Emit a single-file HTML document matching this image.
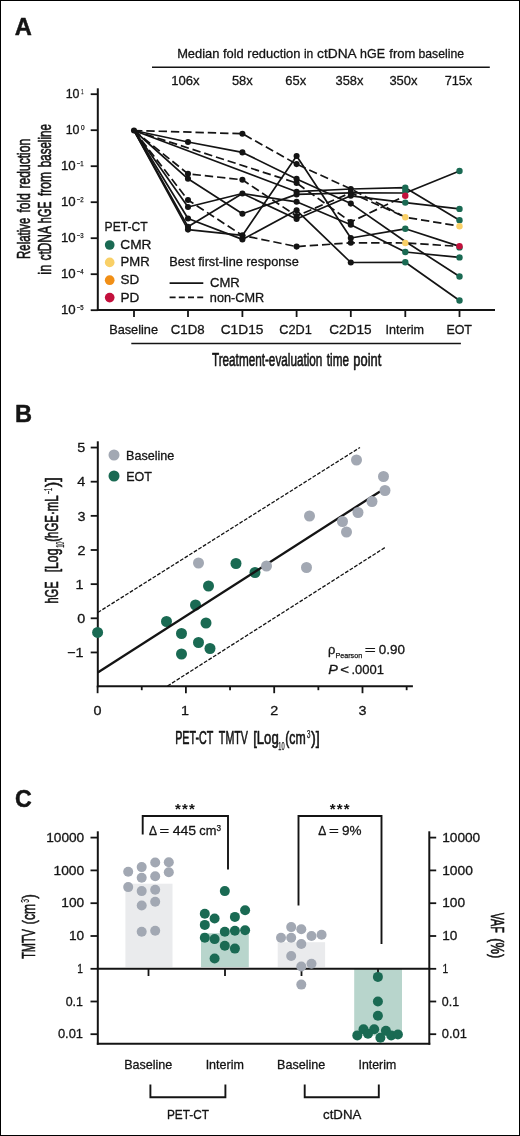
<!DOCTYPE html>
<html lang="en"><head><meta charset="utf-8"><title>Figure</title>
<style>
html,body{margin:0;padding:0;background:#fff}
body{width:520px;height:1136px;overflow:hidden}
svg{display:block;font-family:'Liberation Sans', Arial, Helvetica, sans-serif}
svg text{fill:#141414;stroke-linejoin:round}
</style></head>
<body>
<svg width="520" height="1136" viewBox="0 0 520 1136">
<rect x="0" y="0" width="520" height="1136" fill="#fff"/>
<rect x="0.5" y="0.5" width="519" height="1135" fill="none" stroke="#000" stroke-width="1"/>
<g id="panelA">
<text x="14.81" y="34.6" font-size="24.8" textLength="17.12" lengthAdjust="spacingAndGlyphs" font-weight="bold" stroke="#141414" stroke-width="0.5">A</text>
<text transform="translate(0 58.4)" font-size="13.1" stroke="#141414" stroke-width="0.3"><tspan x="177.14" y="0" font-size="13.1" textLength="123.3" lengthAdjust="spacingAndGlyphs">Median fold reduction</tspan> <tspan x="303.89" y="0" font-size="13.1" textLength="9.39" lengthAdjust="spacingAndGlyphs">in</tspan> <tspan x="317.03" y="0" font-size="13.1" textLength="39.0" lengthAdjust="spacingAndGlyphs">ctDNA</tspan> <tspan x="360.04" y="0" font-size="13.1" textLength="24.9" lengthAdjust="spacingAndGlyphs">hGE</tspan> <tspan x="389.32" y="0" font-size="13.1" textLength="26.04" lengthAdjust="spacingAndGlyphs">from</tspan> <tspan x="418.51" y="0" font-size="13.1" textLength="45.53" lengthAdjust="spacingAndGlyphs">baseline</tspan></text>
<line x1="152" y1="67.2" x2="489.8" y2="67.2" stroke="#141414" stroke-width="1.6"/>
<text x="171.2" y="84.6" font-size="13.1" textLength="28.44" lengthAdjust="spacingAndGlyphs" stroke="#141414" stroke-width="0.3">106x</text>
<text x="231.88" y="84.6" font-size="13.1" textLength="20.86" lengthAdjust="spacingAndGlyphs" stroke="#141414" stroke-width="0.3">58x</text>
<text x="285.24" y="84.6" font-size="13.1" textLength="20.9" lengthAdjust="spacingAndGlyphs" stroke="#141414" stroke-width="0.3">65x</text>
<text x="335.51" y="84.6" font-size="13.1" textLength="27.93" lengthAdjust="spacingAndGlyphs" stroke="#141414" stroke-width="0.3">358x</text>
<text x="389.41" y="84.6" font-size="13.1" textLength="28.13" lengthAdjust="spacingAndGlyphs" stroke="#141414" stroke-width="0.3">350x</text>
<text x="444.65" y="84.6" font-size="13.1" textLength="27.59" lengthAdjust="spacingAndGlyphs" stroke="#141414" stroke-width="0.3">715x</text>
<line x1="97.8" y1="88.3" x2="97.8" y2="311" stroke="#141414" stroke-width="2.0"/>
<line x1="96.85" y1="310.1" x2="495" y2="310.1" stroke="#141414" stroke-width="2.0"/>
<line x1="90.7" y1="94.2" x2="97.8" y2="94.2" stroke="#141414" stroke-width="1.8"/>
<text transform="translate(0 97.9)" font-size="12.6" stroke="#141414" stroke-width="0.3"><tspan x="65.65" y="0" font-size="12.6" textLength="13.83" lengthAdjust="spacingAndGlyphs">10</tspan><tspan x="81.3" y="-3.9" font-size="7.4" stroke-width="0.25" textLength="2.19" lengthAdjust="spacingAndGlyphs">1</tspan></text>
<line x1="90.7" y1="130.2" x2="97.8" y2="130.2" stroke="#141414" stroke-width="1.8"/>
<text transform="translate(0 133.89999999999998)" font-size="12.6" stroke="#141414" stroke-width="0.3"><tspan x="65.65" y="0" font-size="12.6" textLength="13.83" lengthAdjust="spacingAndGlyphs">10</tspan><tspan x="80.95" y="-3.9" font-size="7.4" stroke-width="0.25" textLength="3.61" lengthAdjust="spacingAndGlyphs">0</tspan></text>
<line x1="90.7" y1="166.2" x2="97.8" y2="166.2" stroke="#141414" stroke-width="1.8"/>
<text transform="translate(0 169.89999999999998)" font-size="12.6" stroke="#141414" stroke-width="0.3"><tspan x="60.99" y="0" font-size="12.6" textLength="14.73" lengthAdjust="spacingAndGlyphs">10</tspan><tspan x="76.8" y="-3.9" font-size="7.4" stroke-width="0.25" textLength="6.89" lengthAdjust="spacingAndGlyphs">−1</tspan></text>
<line x1="90.7" y1="202.2" x2="97.8" y2="202.2" stroke="#141414" stroke-width="1.8"/>
<text transform="translate(0 205.89999999999998)" font-size="12.6" stroke="#141414" stroke-width="0.3"><tspan x="60.99" y="0" font-size="12.6" textLength="14.73" lengthAdjust="spacingAndGlyphs">10</tspan><tspan x="76.8" y="-3.9" font-size="7.4" stroke-width="0.25" textLength="6.9" lengthAdjust="spacingAndGlyphs">−2</tspan></text>
<line x1="90.7" y1="238.2" x2="97.8" y2="238.2" stroke="#141414" stroke-width="1.8"/>
<text transform="translate(0 241.89999999999998)" font-size="12.6" stroke="#141414" stroke-width="0.3"><tspan x="60.99" y="0" font-size="12.6" textLength="14.73" lengthAdjust="spacingAndGlyphs">10</tspan><tspan x="76.8" y="-3.9" font-size="7.4" stroke-width="0.25" textLength="6.86" lengthAdjust="spacingAndGlyphs">−3</tspan></text>
<line x1="90.7" y1="274.2" x2="97.8" y2="274.2" stroke="#141414" stroke-width="1.8"/>
<text transform="translate(0 277.9)" font-size="12.6" stroke="#141414" stroke-width="0.3"><tspan x="60.99" y="0" font-size="12.6" textLength="14.73" lengthAdjust="spacingAndGlyphs">10</tspan><tspan x="76.81" y="-3.9" font-size="7.4" stroke-width="0.25" textLength="6.77" lengthAdjust="spacingAndGlyphs">−4</tspan></text>
<line x1="90.7" y1="310.2" x2="97.8" y2="310.2" stroke="#141414" stroke-width="1.8"/>
<text transform="translate(0 313.9)" font-size="12.6" stroke="#141414" stroke-width="0.3"><tspan x="60.99" y="0" font-size="12.6" textLength="14.73" lengthAdjust="spacingAndGlyphs">10</tspan><tspan x="76.8" y="-3.9" font-size="7.4" stroke-width="0.25" textLength="6.85" lengthAdjust="spacingAndGlyphs">−5</tspan></text>
<line x1="134" y1="310" x2="134" y2="317" stroke="#141414" stroke-width="1.8"/>
<line x1="188" y1="310" x2="188" y2="317" stroke="#141414" stroke-width="1.8"/>
<line x1="242.4" y1="310" x2="242.4" y2="317" stroke="#141414" stroke-width="1.8"/>
<line x1="296.6" y1="310" x2="296.6" y2="317" stroke="#141414" stroke-width="1.8"/>
<line x1="350.8" y1="310" x2="350.8" y2="317" stroke="#141414" stroke-width="1.8"/>
<line x1="405.3" y1="310" x2="405.3" y2="317" stroke="#141414" stroke-width="1.8"/>
<line x1="459.5" y1="310" x2="459.5" y2="317" stroke="#141414" stroke-width="1.8"/>
<text x="109.15" y="334.0" font-size="13.1" textLength="48.91" lengthAdjust="spacingAndGlyphs" stroke="#141414" stroke-width="0.3">Baseline</text>
<text x="170.73" y="334.0" font-size="13.1" textLength="33.85" lengthAdjust="spacingAndGlyphs" stroke="#141414" stroke-width="0.3">C1D8</text>
<text x="220.7" y="334.0" font-size="13.1" textLength="42.77" lengthAdjust="spacingAndGlyphs" stroke="#141414" stroke-width="0.3">C1D15</text>
<text x="279.35" y="334.0" font-size="13.1" textLength="32.57" lengthAdjust="spacingAndGlyphs" stroke="#141414" stroke-width="0.3">C2D1</text>
<text x="329.31" y="334.0" font-size="13.1" textLength="42.26" lengthAdjust="spacingAndGlyphs" stroke="#141414" stroke-width="0.3">C2D15</text>
<text x="385.54" y="334.0" font-size="13.1" textLength="38.49" lengthAdjust="spacingAndGlyphs" stroke="#141414" stroke-width="0.3">Interim</text>
<text x="446.38" y="334.0" font-size="13.1" textLength="25.61" lengthAdjust="spacingAndGlyphs" stroke="#141414" stroke-width="0.3">EOT</text>
<line x1="131.3" y1="343.5" x2="460.9" y2="343.5" stroke="#141414" stroke-width="1.6"/>
<text transform="translate(0 365.6)" font-size="17.6" stroke="#141414" stroke-width="0.6"><tspan x="211.94" y="0" font-size="17.6" textLength="110.42" lengthAdjust="spacingAndGlyphs">Treatment-evaluation</tspan> <tspan x="326.82" y="0" font-size="17.6" textLength="22.1" lengthAdjust="spacingAndGlyphs">time</tspan> <tspan x="353.37" y="0" font-size="17.6" textLength="27.92" lengthAdjust="spacingAndGlyphs">point</tspan></text>
<text transform="translate(29.9 258.2) rotate(-90)" font-size="17.6" stroke="#141414" stroke-width="0.6"><tspan x="-0.74" y="0" font-size="17.6" textLength="41.35" lengthAdjust="spacingAndGlyphs">Relative</tspan> <tspan x="45.73" y="0" font-size="17.6" textLength="19.34" lengthAdjust="spacingAndGlyphs">fold</tspan> <tspan x="69.7" y="0" font-size="17.6" textLength="49.79" lengthAdjust="spacingAndGlyphs">reduction</tspan></text>
<text transform="translate(51.1 274) rotate(-90)" font-size="17.6" stroke="#141414" stroke-width="0.6"><tspan x="-0.67" y="0" font-size="17.6" textLength="10.11" lengthAdjust="spacingAndGlyphs">in</tspan> <tspan x="13.4" y="0" font-size="17.6" textLength="33.92" lengthAdjust="spacingAndGlyphs">ctDNA</tspan> <tspan x="50.84" y="0" font-size="17.6" textLength="21.82" lengthAdjust="spacingAndGlyphs">hGE</tspan> <tspan x="78.03" y="0" font-size="17.6" textLength="24.06" lengthAdjust="spacingAndGlyphs">from</tspan> <tspan x="106.75" y="0" font-size="17.6" textLength="43.16" lengthAdjust="spacingAndGlyphs">baseline</tspan></text>
<polyline points="134,130.5 188,142 242.4,152.4 296.6,178.9 350.8,203.6 405.3,241.5 459.5,276.5" fill="none" stroke="#141414" stroke-width="1.7" stroke-linejoin="round"/>
<polyline points="134,130.5 296.6,191.7 350.8,189 405.3,187.7 459.5,220.2" fill="none" stroke="#141414" stroke-width="1.7" stroke-linejoin="round"/>
<polyline points="134,130.5 188,178.8 242.4,213.7 296.6,194.4 350.8,192.8 405.3,193 459.5,171" fill="none" stroke="#141414" stroke-width="1.7" stroke-linejoin="round"/>
<polyline points="134,130.5 188,207 242.4,193.5 296.6,201.8 350.8,224.7 405.3,252 459.5,257.4" fill="none" stroke="#141414" stroke-width="1.7" stroke-linejoin="round"/>
<polyline points="134,130.5 188,226.7 242.4,193.5 296.6,219 350.8,195.8 405.3,202.6 459.5,208.9" fill="none" stroke="#141414" stroke-width="1.7" stroke-linejoin="round"/>
<polyline points="134,130.5 188,218.5 242.4,239.4 296.6,210.3 350.8,262.5 405.3,262.3 459.5,300.5" fill="none" stroke="#141414" stroke-width="1.7" stroke-linejoin="round"/>
<polyline points="134,130.5 188,229.6 242.4,235.4 296.6,156 350.8,238 405.3,228.8 459.5,246.4" fill="none" stroke="#141414" stroke-width="1.7" stroke-linejoin="round"/>
<polyline points="134,130.5 242.4,133.7 296.6,164.1 350.8,189 405.3,217.2 459.5,226.2" fill="none" stroke="#141414" stroke-width="1.7" stroke-dasharray="8.4 3.9" stroke-linejoin="round"/>
<polyline points="134,130.5 296.6,183 350.8,222 405.3,195.7" fill="none" stroke="#141414" stroke-width="1.7" stroke-dasharray="8.4 3.9" stroke-linejoin="round"/>
<polyline points="134,130.5 188,173.8 242.4,179.8 296.6,216 350.8,192.8 405.3,217.2" fill="none" stroke="#141414" stroke-width="1.7" stroke-dasharray="8.4 3.9" stroke-linejoin="round"/>
<polyline points="134,130.5 188,200 242.4,235.4 296.6,246.6 350.8,242.8 405.3,243 459.5,246.4" fill="none" stroke="#141414" stroke-width="1.7" stroke-dasharray="8.4 3.9" stroke-linejoin="round"/>
<circle cx="134" cy="130.5" r="3.05" fill="#141414"/>
<circle cx="188" cy="142" r="3.05" fill="#141414"/>
<circle cx="242.4" cy="152.4" r="3.05" fill="#141414"/>
<circle cx="296.6" cy="178.9" r="3.05" fill="#141414"/>
<circle cx="350.8" cy="203.6" r="3.05" fill="#141414"/>
<circle cx="296.6" cy="191.7" r="3.05" fill="#141414"/>
<circle cx="350.8" cy="189" r="3.05" fill="#141414"/>
<circle cx="188" cy="178.8" r="3.05" fill="#141414"/>
<circle cx="242.4" cy="213.7" r="3.05" fill="#141414"/>
<circle cx="296.6" cy="194.4" r="3.05" fill="#141414"/>
<circle cx="350.8" cy="192.8" r="3.05" fill="#141414"/>
<circle cx="188" cy="207" r="3.05" fill="#141414"/>
<circle cx="242.4" cy="193.5" r="3.05" fill="#141414"/>
<circle cx="296.6" cy="201.8" r="3.05" fill="#141414"/>
<circle cx="350.8" cy="224.7" r="3.05" fill="#141414"/>
<circle cx="188" cy="226.7" r="3.05" fill="#141414"/>
<circle cx="296.6" cy="219" r="3.05" fill="#141414"/>
<circle cx="350.8" cy="195.8" r="3.05" fill="#141414"/>
<circle cx="188" cy="218.5" r="3.05" fill="#141414"/>
<circle cx="242.4" cy="239.4" r="3.05" fill="#141414"/>
<circle cx="296.6" cy="210.3" r="3.05" fill="#141414"/>
<circle cx="350.8" cy="262.5" r="3.05" fill="#141414"/>
<circle cx="188" cy="229.6" r="3.05" fill="#141414"/>
<circle cx="242.4" cy="235.4" r="3.05" fill="#141414"/>
<circle cx="296.6" cy="156" r="3.05" fill="#141414"/>
<circle cx="350.8" cy="238" r="3.05" fill="#141414"/>
<circle cx="242.4" cy="133.7" r="3.05" fill="#141414"/>
<circle cx="296.6" cy="164.1" r="3.05" fill="#141414"/>
<circle cx="296.6" cy="183" r="3.05" fill="#141414"/>
<circle cx="350.8" cy="222" r="3.05" fill="#141414"/>
<circle cx="188" cy="173.8" r="3.05" fill="#141414"/>
<circle cx="242.4" cy="179.8" r="3.05" fill="#141414"/>
<circle cx="296.6" cy="216" r="3.05" fill="#141414"/>
<circle cx="188" cy="200" r="3.05" fill="#141414"/>
<circle cx="296.6" cy="246.6" r="3.05" fill="#141414"/>
<circle cx="350.8" cy="242.8" r="3.05" fill="#141414"/>
<circle cx="405.3" cy="187.7" r="3.2" fill="#1a6a53"/>
<circle cx="405.3" cy="191" r="3.2" fill="#1a6a53"/>
<circle cx="405.3" cy="202.6" r="3.2" fill="#1a6a53"/>
<circle cx="405.3" cy="228.8" r="3.2" fill="#1a6a53"/>
<circle cx="405.3" cy="252" r="3.2" fill="#1a6a53"/>
<circle cx="405.3" cy="262.3" r="3.2" fill="#1a6a53"/>
<circle cx="405.3" cy="217.2" r="3.2" fill="#f9d067"/>
<circle cx="405.3" cy="243" r="3.2" fill="#f9d067"/>
<circle cx="405.3" cy="195.7" r="3.2" fill="#c3103c"/>
<circle cx="459.5" cy="171" r="3.2" fill="#1a6a53"/>
<circle cx="459.5" cy="208.9" r="3.2" fill="#1a6a53"/>
<circle cx="459.5" cy="220.2" r="3.2" fill="#1a6a53"/>
<circle cx="459.5" cy="247.4" r="3.2" fill="#1a6a53"/>
<circle cx="459.5" cy="257.4" r="3.2" fill="#1a6a53"/>
<circle cx="459.5" cy="276.5" r="3.2" fill="#1a6a53"/>
<circle cx="459.5" cy="300.5" r="3.2" fill="#1a6a53"/>
<circle cx="459.5" cy="226.2" r="3.2" fill="#f9d067"/>
<circle cx="459.5" cy="246.2" r="3.2" fill="#c3103c"/>
<text x="104.62" y="231.4" font-size="13.1" textLength="43.05" lengthAdjust="spacingAndGlyphs" stroke="#141414" stroke-width="0.3">PET-CT</text>
<circle cx="109.7" cy="245" r="4.85" fill="#1a6a53"/>
<text x="120.3" y="249.3" font-size="13.1" textLength="31.23" lengthAdjust="spacingAndGlyphs" stroke="#141414" stroke-width="0.3">CMR</text>
<circle cx="109.7" cy="262.4" r="4.85" fill="#f9d067"/>
<text x="120.52" y="266.4" font-size="13.1" textLength="29.19" lengthAdjust="spacingAndGlyphs" stroke="#141414" stroke-width="0.3">PMR</text>
<circle cx="109.7" cy="280.2" r="4.85" fill="#f18f16"/>
<text x="120.59" y="284.3" font-size="13.1" textLength="18.76" lengthAdjust="spacingAndGlyphs" stroke="#141414" stroke-width="0.3">SD</text>
<circle cx="109.7" cy="297.6" r="4.85" fill="#c3103c"/>
<text x="120.49" y="301.7" font-size="13.1" textLength="18.86" lengthAdjust="spacingAndGlyphs" stroke="#141414" stroke-width="0.3">PD</text>
<text x="169.26" y="266.1" font-size="13.1" textLength="129.51" lengthAdjust="spacingAndGlyphs" stroke="#141414" stroke-width="0.3">Best first-line response</text>
<line x1="169.6" y1="283.2" x2="203.3" y2="283.2" stroke="#141414" stroke-width="1.8"/>
<text x="209.93" y="287.3" font-size="13.1" textLength="29.87" lengthAdjust="spacingAndGlyphs" stroke="#141414" stroke-width="0.3">CMR</text>
<line x1="169.6" y1="297.3" x2="203.5" y2="297.3" stroke="#141414" stroke-width="1.8" stroke-dasharray="6 3.2"/>
<text x="209.86" y="301.6" font-size="13.1" textLength="54.33" lengthAdjust="spacingAndGlyphs" stroke="#141414" stroke-width="0.3">non-CMR</text>
</g>
<g id="panelB">
<text x="14.92" y="421.5" font-size="24.8" textLength="17.05" lengthAdjust="spacingAndGlyphs" font-weight="bold" stroke="#141414" stroke-width="0.5">B</text>
<line x1="97.8" y1="441.3" x2="97.8" y2="687.2" stroke="#141414" stroke-width="2.0"/>
<line x1="96.85" y1="686.3" x2="412.9" y2="686.3" stroke="#141414" stroke-width="2.0"/>
<line x1="90.7" y1="447.54999999999995" x2="97.8" y2="447.54999999999995" stroke="#141414" stroke-width="1.8"/>
<text x="77.39" y="452.24999999999994" font-size="13.1" textLength="8.01" lengthAdjust="spacingAndGlyphs" stroke="#141414" stroke-width="0.3">5</text>
<line x1="90.7" y1="481.69999999999993" x2="97.8" y2="481.69999999999993" stroke="#141414" stroke-width="1.8"/>
<text x="77.21" y="486.3999999999999" font-size="13.1" textLength="8.01" lengthAdjust="spacingAndGlyphs" stroke="#141414" stroke-width="0.3">4</text>
<line x1="90.7" y1="515.8499999999999" x2="97.8" y2="515.8499999999999" stroke="#141414" stroke-width="1.8"/>
<text x="77.42" y="520.55" font-size="13.1" textLength="8.01" lengthAdjust="spacingAndGlyphs" stroke="#141414" stroke-width="0.3">3</text>
<line x1="90.7" y1="550.0" x2="97.8" y2="550.0" stroke="#141414" stroke-width="1.8"/>
<text x="77.51" y="554.7" font-size="13.1" textLength="8.01" lengthAdjust="spacingAndGlyphs" stroke="#141414" stroke-width="0.3">2</text>
<line x1="90.7" y1="584.15" x2="97.8" y2="584.15" stroke="#141414" stroke-width="1.8"/>
<text x="75.59" y="588.85" font-size="13.1" textLength="8.01" lengthAdjust="spacingAndGlyphs" stroke="#141414" stroke-width="0.3">1</text>
<line x1="90.7" y1="618.3" x2="97.8" y2="618.3" stroke="#141414" stroke-width="1.8"/>
<text x="77.35" y="623.0" font-size="13.1" textLength="8.01" lengthAdjust="spacingAndGlyphs" stroke="#141414" stroke-width="0.3">0</text>
<line x1="90.7" y1="652.4499999999999" x2="97.8" y2="652.4499999999999" stroke="#141414" stroke-width="1.8"/>
<text x="67.17" y="657.15" font-size="13.1" textLength="16.43" lengthAdjust="spacingAndGlyphs" stroke="#141414" stroke-width="0.3">−1</text>
<line x1="97.6" y1="686.3" x2="97.6" y2="693.2" stroke="#141414" stroke-width="1.8"/>
<text x="93.59" y="715" font-size="13.1" textLength="8.01" lengthAdjust="spacingAndGlyphs" stroke="#141414" stroke-width="0.3">0</text>
<line x1="185.89999999999998" y1="686.3" x2="185.89999999999998" y2="693.2" stroke="#141414" stroke-width="1.8"/>
<text x="181.1" y="715" font-size="13.1" textLength="8.01" lengthAdjust="spacingAndGlyphs" stroke="#141414" stroke-width="0.3">1</text>
<line x1="274.2" y1="686.3" x2="274.2" y2="693.2" stroke="#141414" stroke-width="1.8"/>
<text x="270.19" y="715" font-size="13.1" textLength="8.01" lengthAdjust="spacingAndGlyphs" stroke="#141414" stroke-width="0.3">2</text>
<line x1="362.5" y1="686.3" x2="362.5" y2="693.2" stroke="#141414" stroke-width="1.8"/>
<text x="358.54" y="715" font-size="13.1" textLength="8.01" lengthAdjust="spacingAndGlyphs" stroke="#141414" stroke-width="0.3">3</text>
<line x1="141.75" y1="686.3" x2="141.75" y2="690.2" stroke="#141414" stroke-width="1.8"/>
<line x1="230.04999999999998" y1="686.3" x2="230.04999999999998" y2="690.2" stroke="#141414" stroke-width="1.8"/>
<line x1="318.35" y1="686.3" x2="318.35" y2="690.2" stroke="#141414" stroke-width="1.8"/>
<line x1="406.65" y1="686.3" x2="406.65" y2="690.2" stroke="#141414" stroke-width="1.8"/>
<circle cx="236" cy="563.5" r="5.5" fill="#1a6a53"/>
<circle cx="255" cy="572.5" r="5.5" fill="#1a6a53"/>
<circle cx="208.5" cy="586" r="5.5" fill="#1a6a53"/>
<circle cx="195.5" cy="605" r="5.5" fill="#1a6a53"/>
<circle cx="166.5" cy="621.5" r="5.5" fill="#1a6a53"/>
<circle cx="206" cy="623" r="5.5" fill="#1a6a53"/>
<circle cx="181.5" cy="633.5" r="5.5" fill="#1a6a53"/>
<circle cx="198.5" cy="642.5" r="5.5" fill="#1a6a53"/>
<circle cx="210" cy="648.5" r="5.5" fill="#1a6a53"/>
<circle cx="181.5" cy="654" r="5.5" fill="#1a6a53"/>
<circle cx="97.6" cy="632.4" r="5.5" fill="#1a6a53"/>
<line x1="97.8" y1="672.5" x2="380" y2="491.5" stroke="#141414" stroke-width="2.3"/>
<line x1="97.8" y1="612.5" x2="360" y2="447.5" stroke="#141414" stroke-width="1.3" stroke-dasharray="3.8 1.6"/>
<line x1="167.5" y1="686" x2="385" y2="547.5" stroke="#141414" stroke-width="1.3" stroke-dasharray="3.8 1.6"/>
<circle cx="356.5" cy="460" r="5.5" fill="#a2a8b3"/>
<circle cx="383.5" cy="476.5" r="5.5" fill="#a2a8b3"/>
<circle cx="385" cy="490.5" r="5.5" fill="#a2a8b3"/>
<circle cx="372" cy="501.5" r="5.5" fill="#a2a8b3"/>
<circle cx="358" cy="512.5" r="5.5" fill="#a2a8b3"/>
<circle cx="309.5" cy="516" r="5.5" fill="#a2a8b3"/>
<circle cx="342.5" cy="521.5" r="5.5" fill="#a2a8b3"/>
<circle cx="346.5" cy="532" r="5.5" fill="#a2a8b3"/>
<circle cx="266.5" cy="566" r="5.5" fill="#a2a8b3"/>
<circle cx="306.5" cy="567.5" r="5.5" fill="#a2a8b3"/>
<circle cx="198.5" cy="563" r="5.5" fill="#a2a8b3"/>
<circle cx="114" cy="455" r="5.5" fill="#a2a8b3"/>
<text x="126.07" y="459.6" font-size="13.1" textLength="48.29" lengthAdjust="spacingAndGlyphs" stroke="#141414" stroke-width="0.3">Baseline</text>
<circle cx="114" cy="476" r="5.5" fill="#1a6a53"/>
<text x="126.17" y="480.6" font-size="13.1" textLength="25.71" lengthAdjust="spacingAndGlyphs" stroke="#141414" stroke-width="0.3">EOT</text>
<text transform="translate(0 654.2)" font-size="13.1" stroke="#141414" stroke-width="0.3"><tspan x="328.07" y="0" font-size="13.1" textLength="7.35" lengthAdjust="spacingAndGlyphs">ρ</tspan><tspan x="335.41" y="3.9" font-size="7.2" stroke-width="0.25" textLength="26.76" lengthAdjust="spacingAndGlyphs">Pearson</tspan> <tspan x="364.88" y="0" font-size="13.1" textLength="11.06" lengthAdjust="spacingAndGlyphs">=</tspan> <tspan x="378.78" y="0" font-size="13.1" textLength="26.15" lengthAdjust="spacingAndGlyphs">0.90</tspan></text>
<text y="674" font-size="13.1" stroke="#141414" stroke-width="0.3"><tspan x="328.2" font-style="italic" textLength="9.6" lengthAdjust="spacingAndGlyphs">P</tspan> <tspan x="340.2" textLength="8.8" lengthAdjust="spacingAndGlyphs">&lt;</tspan> <tspan x="351.41" textLength="32.52" lengthAdjust="spacingAndGlyphs">.0001</tspan></text>
<text transform="translate(0 743.7)" font-size="17.6" stroke="#141414" stroke-width="0.6"><tspan x="175.14" y="0" font-size="17.6" textLength="38.0" lengthAdjust="spacingAndGlyphs">PET-CT</tspan> <tspan x="218.86" y="0" font-size="17.6" textLength="29.09" lengthAdjust="spacingAndGlyphs">TMTV</tspan> <tspan x="253.16" y="0" font-size="17.6" textLength="25.58" lengthAdjust="spacingAndGlyphs">[Log</tspan><tspan x="278.27" y="6.2" font-size="10.3" stroke-width="0.25" textLength="6.25" lengthAdjust="spacingAndGlyphs">10</tspan><tspan x="285.24" y="0" font-size="17.6" textLength="20.47" lengthAdjust="spacingAndGlyphs">(cm</tspan><tspan x="306.84" y="-6.1" font-size="10.3" stroke-width="0.25" textLength="3.75" lengthAdjust="spacingAndGlyphs">3</tspan><tspan x="310.92" y="0" font-size="17.6" textLength="8.81" lengthAdjust="spacingAndGlyphs">)]</tspan></text>
<text transform="translate(57.9 603) rotate(-90)" font-size="17.6" stroke="#141414" stroke-width="0.6"><tspan x="-0.56" y="0" font-size="17.6" textLength="22.04" lengthAdjust="spacingAndGlyphs">hGE</tspan> <tspan x="30.63" y="0" font-size="17.6" textLength="23.86" lengthAdjust="spacingAndGlyphs">[Log</tspan><tspan x="55.17" y="5.9" font-size="10.4" stroke-width="0.25" textLength="6.25" lengthAdjust="spacingAndGlyphs">10</tspan><tspan x="61.29" y="0" font-size="17.6" textLength="46.39" lengthAdjust="spacingAndGlyphs">(hGE·mL</tspan><tspan x="108.93" y="-6" font-size="10.2" stroke-width="0.25" textLength="6.24" lengthAdjust="spacingAndGlyphs">−1</tspan><tspan x="115.8" y="0" font-size="17.6" textLength="9.96" lengthAdjust="spacingAndGlyphs">)]</tspan></text>
</g>
<g id="panelC">
<text x="15.05" y="806.5" font-size="24.8" textLength="16.79" lengthAdjust="spacingAndGlyphs" font-weight="bold" stroke="#141414" stroke-width="0.5">C</text>
<rect x="125.4" y="883.7" width="47.1" height="83.4" fill="#eaebed"/>
<rect x="201" y="933.2" width="47.8" height="33.9" fill="#b8d5cc"/>
<rect x="277.7" y="942.2" width="47.4" height="24.9" fill="#eaebed"/>
<rect x="354.2" y="968.5" width="47.8" height="67" fill="#b8d5cc"/>
<line x1="97.8" y1="831.3" x2="97.8" y2="1044.75" stroke="#141414" stroke-width="2.0"/>
<line x1="429.3" y1="831.3" x2="429.3" y2="1044.75" stroke="#141414" stroke-width="2.0"/>
<line x1="96.85" y1="1043.8" x2="430.25" y2="1043.8" stroke="#141414" stroke-width="2.0"/>
<line x1="96.85" y1="968.8" x2="430.25" y2="968.8" stroke="#141414" stroke-width="2.0"/>
<line x1="90.5" y1="837.6" x2="97.8" y2="837.6" stroke="#141414" stroke-width="1.8"/>
<text x="46.16" y="841.8000000000001" font-size="13.1" textLength="38.08" lengthAdjust="spacingAndGlyphs" stroke="#141414" stroke-width="0.3">10000</text>
<line x1="429.3" y1="837.6" x2="436.2" y2="837.6" stroke="#141414" stroke-width="1.8"/>
<text x="442.16" y="841.8000000000001" font-size="13.1" textLength="38.08" lengthAdjust="spacingAndGlyphs" stroke="#141414" stroke-width="0.3">10000</text>
<line x1="90.5" y1="870.4" x2="97.8" y2="870.4" stroke="#141414" stroke-width="1.8"/>
<text x="53.45" y="874.6" font-size="13.1" textLength="30.8" lengthAdjust="spacingAndGlyphs" stroke="#141414" stroke-width="0.3">1000</text>
<line x1="429.3" y1="870.4" x2="436.2" y2="870.4" stroke="#141414" stroke-width="1.8"/>
<text x="442.15" y="874.6" font-size="13.1" textLength="30.8" lengthAdjust="spacingAndGlyphs" stroke="#141414" stroke-width="0.3">1000</text>
<line x1="90.5" y1="903.2" x2="97.8" y2="903.2" stroke="#141414" stroke-width="1.8"/>
<text x="61.36" y="907.4000000000001" font-size="13.1" textLength="22.88" lengthAdjust="spacingAndGlyphs" stroke="#141414" stroke-width="0.3">100</text>
<line x1="429.3" y1="903.2" x2="436.2" y2="903.2" stroke="#141414" stroke-width="1.8"/>
<text x="442.16" y="907.4000000000001" font-size="13.1" textLength="22.88" lengthAdjust="spacingAndGlyphs" stroke="#141414" stroke-width="0.3">100</text>
<line x1="90.5" y1="936" x2="97.8" y2="936" stroke="#141414" stroke-width="1.8"/>
<text x="69.06" y="940.2" font-size="13.1" textLength="15.17" lengthAdjust="spacingAndGlyphs" stroke="#141414" stroke-width="0.3">10</text>
<line x1="429.3" y1="936" x2="436.2" y2="936" stroke="#141414" stroke-width="1.8"/>
<text x="442.16" y="940.2" font-size="13.1" textLength="15.17" lengthAdjust="spacingAndGlyphs" stroke="#141414" stroke-width="0.3">10</text>
<line x1="90.5" y1="968.8" x2="97.8" y2="968.8" stroke="#141414" stroke-width="1.8"/>
<text x="77.22" y="973.0" font-size="13.1" textLength="5.68" lengthAdjust="spacingAndGlyphs" stroke="#141414" stroke-width="0.3">1</text>
<line x1="429.3" y1="968.8" x2="436.2" y2="968.8" stroke="#141414" stroke-width="1.8"/>
<text x="442.42" y="973.0" font-size="13.1" textLength="5.68" lengthAdjust="spacingAndGlyphs" stroke="#141414" stroke-width="0.3">1</text>
<line x1="90.5" y1="1001.5" x2="97.8" y2="1001.5" stroke="#141414" stroke-width="1.8"/>
<text x="65.71" y="1005.7" font-size="13.1" textLength="17.29" lengthAdjust="spacingAndGlyphs" stroke="#141414" stroke-width="0.3">0.1</text>
<line x1="429.3" y1="1001.5" x2="436.2" y2="1001.5" stroke="#141414" stroke-width="1.8"/>
<text x="441.81" y="1005.7" font-size="13.1" textLength="17.29" lengthAdjust="spacingAndGlyphs" stroke="#141414" stroke-width="0.3">0.1</text>
<line x1="90.5" y1="1034.2" x2="97.8" y2="1034.2" stroke="#141414" stroke-width="1.8"/>
<text x="57.9" y="1038.4" font-size="13.1" textLength="25.14" lengthAdjust="spacingAndGlyphs" stroke="#141414" stroke-width="0.3">0.01</text>
<line x1="429.3" y1="1034.2" x2="436.2" y2="1034.2" stroke="#141414" stroke-width="1.8"/>
<text x="441.8" y="1038.4" font-size="13.1" textLength="25.14" lengthAdjust="spacingAndGlyphs" stroke="#141414" stroke-width="0.3">0.01</text>
<line x1="148.5" y1="969" x2="148.5" y2="976" stroke="#141414" stroke-width="1.8"/>
<line x1="225" y1="969" x2="225" y2="976" stroke="#141414" stroke-width="1.8"/>
<line x1="301.5" y1="969" x2="301.5" y2="976" stroke="#141414" stroke-width="1.8"/>
<line x1="378" y1="969" x2="378" y2="976" stroke="#141414" stroke-width="1.8"/>
<text x="124.17" y="1068.5" font-size="13.1" textLength="48.19" lengthAdjust="spacingAndGlyphs" stroke="#141414" stroke-width="0.3">Baseline</text>
<text x="205.64" y="1068.5" font-size="13.1" textLength="38.28" lengthAdjust="spacingAndGlyphs" stroke="#141414" stroke-width="0.3">Interim</text>
<text x="277.07" y="1068.5" font-size="13.1" textLength="48.19" lengthAdjust="spacingAndGlyphs" stroke="#141414" stroke-width="0.3">Baseline</text>
<text x="358.56" y="1068.5" font-size="13.1" textLength="37.65" lengthAdjust="spacingAndGlyphs" stroke="#141414" stroke-width="0.3">Interim</text>
<circle cx="155.2" cy="862.5" r="5.0" fill="#a2a8b3"/>
<circle cx="168.8" cy="862.2" r="5.0" fill="#a2a8b3"/>
<circle cx="141.7" cy="867.1" r="5.0" fill="#a2a8b3"/>
<circle cx="128.2" cy="871.7" r="5.0" fill="#a2a8b3"/>
<circle cx="168.8" cy="872.3" r="5.0" fill="#a2a8b3"/>
<circle cx="155.2" cy="876.3" r="5.0" fill="#a2a8b3"/>
<circle cx="141.7" cy="877.8" r="5.0" fill="#a2a8b3"/>
<circle cx="128.2" cy="887.1" r="5.0" fill="#a2a8b3"/>
<circle cx="155.2" cy="889.8" r="5.0" fill="#a2a8b3"/>
<circle cx="141.7" cy="891.1" r="5.0" fill="#a2a8b3"/>
<circle cx="155.2" cy="901.8" r="5.0" fill="#a2a8b3"/>
<circle cx="141.7" cy="905.5" r="5.0" fill="#a2a8b3"/>
<circle cx="155.2" cy="930.8" r="5.0" fill="#a2a8b3"/>
<circle cx="141.7" cy="931.7" r="5.0" fill="#a2a8b3"/>
<circle cx="224.8" cy="891.1" r="5.0" fill="#1a6a53"/>
<circle cx="245.1" cy="910.2" r="5.0" fill="#1a6a53"/>
<circle cx="204.8" cy="913.8" r="5.0" fill="#1a6a53"/>
<circle cx="234.9" cy="916.9" r="5.0" fill="#1a6a53"/>
<circle cx="214.6" cy="918.5" r="5.0" fill="#1a6a53"/>
<circle cx="204.8" cy="924.9" r="5.0" fill="#1a6a53"/>
<circle cx="245.1" cy="930.2" r="5.0" fill="#1a6a53"/>
<circle cx="234.9" cy="930.8" r="5.0" fill="#1a6a53"/>
<circle cx="224.8" cy="931.7" r="5.0" fill="#1a6a53"/>
<circle cx="204.8" cy="937.8" r="5.0" fill="#1a6a53"/>
<circle cx="214.6" cy="939.1" r="5.0" fill="#1a6a53"/>
<circle cx="224.8" cy="945.8" r="5.0" fill="#1a6a53"/>
<circle cx="234.9" cy="948.6" r="5.0" fill="#1a6a53"/>
<circle cx="214.6" cy="958.5" r="5.0" fill="#1a6a53"/>
<circle cx="291.2" cy="927.1" r="5.0" fill="#a2a8b3"/>
<circle cx="301.3" cy="929.2" r="5.0" fill="#a2a8b3"/>
<circle cx="321.6" cy="934.8" r="5.0" fill="#a2a8b3"/>
<circle cx="311.5" cy="936" r="5.0" fill="#a2a8b3"/>
<circle cx="281" cy="937.8" r="5.0" fill="#a2a8b3"/>
<circle cx="291.2" cy="937.8" r="5.0" fill="#a2a8b3"/>
<circle cx="301.3" cy="944" r="5.0" fill="#a2a8b3"/>
<circle cx="291.2" cy="956" r="5.0" fill="#a2a8b3"/>
<circle cx="311.5" cy="963.7" r="5.0" fill="#a2a8b3"/>
<circle cx="301.3" cy="966.5" r="5.0" fill="#a2a8b3"/>
<circle cx="301.3" cy="984.6" r="5.0" fill="#a2a8b3"/>
<circle cx="377.9" cy="976.9" r="5.0" fill="#1a6a53"/>
<circle cx="377.9" cy="1001.5" r="5.0" fill="#1a6a53"/>
<circle cx="377.9" cy="1015.7" r="5.0" fill="#1a6a53"/>
<circle cx="363.5" cy="1029.2" r="5.0" fill="#1a6a53"/>
<circle cx="374.2" cy="1029.2" r="5.0" fill="#1a6a53"/>
<circle cx="385.9" cy="1030.8" r="5.0" fill="#1a6a53"/>
<circle cx="357.3" cy="1035.4" r="5.0" fill="#1a6a53"/>
<circle cx="368" cy="1033.8" r="5.0" fill="#1a6a53"/>
<circle cx="380.4" cy="1037.8" r="5.0" fill="#1a6a53"/>
<circle cx="391.2" cy="1035.4" r="5.0" fill="#1a6a53"/>
<circle cx="397.9" cy="1034.5" r="5.0" fill="#1a6a53"/>
<polyline points="142.7,834.5 142.7,816 228,816 228,869.5" fill="none" stroke="#141414" stroke-width="1.9" stroke-linejoin="miter"/>
<polyline points="298.5,905.5 298.5,816 381.5,816 381.5,944" fill="none" stroke="#141414" stroke-width="1.9" stroke-linejoin="miter"/>
<text x="175.1" y="813.6" font-size="15" font-weight="bold" textLength="19.8" lengthAdjust="spacing">***</text>
<text x="329.8" y="813.6" font-size="15" font-weight="bold" textLength="19.8" lengthAdjust="spacing">***</text>
<text transform="translate(0 835.2)" font-size="13.1" stroke="#141414" stroke-width="0.3"><tspan x="148.94" y="0" font-size="12.4" textLength="8.02" lengthAdjust="spacingAndGlyphs">Δ</tspan> <tspan x="159.5" y="0" font-size="13.1" textLength="9.62" lengthAdjust="spacingAndGlyphs">=</tspan> <tspan x="172.68" y="0" font-size="13.5" textLength="23.52" lengthAdjust="spacingAndGlyphs">445</tspan> <tspan x="199.36" y="0" font-size="13.5" textLength="17.09" lengthAdjust="spacingAndGlyphs">cm</tspan><tspan x="216.59" y="-4.6" font-size="8.4" stroke-width="0.25" textLength="4.57" lengthAdjust="spacingAndGlyphs">3</tspan></text>
<text transform="translate(0 835.2)" font-size="13.1" stroke="#141414" stroke-width="0.3"><tspan x="318.14" y="0" font-size="12.4" textLength="8.02" lengthAdjust="spacingAndGlyphs">Δ</tspan> <tspan x="329.08" y="0" font-size="13.1" textLength="9.86" lengthAdjust="spacingAndGlyphs">=</tspan> <tspan x="341.97" y="0" font-size="13.5" textLength="19.51" lengthAdjust="spacingAndGlyphs">9%</tspan></text>
<polyline points="150.4,1084.6 150.4,1097.2 225.4,1097.2 225.4,1084.6" fill="none" stroke="#141414" stroke-width="1.9" stroke-linejoin="miter"/>
<polyline points="304.7,1084.6 304.7,1097.2 378.8,1097.2 378.8,1084.6" fill="none" stroke="#141414" stroke-width="1.9" stroke-linejoin="miter"/>
<text x="166.95" y="1118.7" font-size="13.1" textLength="42.02" lengthAdjust="spacingAndGlyphs" stroke="#141414" stroke-width="0.3">PET-CT</text>
<text x="323.04" y="1118.7" font-size="13.1" textLength="38.29" lengthAdjust="spacingAndGlyphs" stroke="#141414" stroke-width="0.3">ctDNA</text>
<text transform="translate(34.8 958.8) rotate(-90)" font-size="17.6" stroke="#141414" stroke-width="0.6"><tspan x="-0.05" y="0" font-size="17.6" textLength="29.69" lengthAdjust="spacingAndGlyphs">TMTV</tspan> <tspan x="34.65" y="0" font-size="17.6" textLength="20.26" lengthAdjust="spacingAndGlyphs">(cm</tspan><tspan x="56.04" y="-5.9" font-size="10.6" stroke-width="0.25" textLength="3.75" lengthAdjust="spacingAndGlyphs">3</tspan><tspan x="60.02" y="0" font-size="17.6" textLength="4.52" lengthAdjust="spacingAndGlyphs">)</tspan></text>
<text transform="translate(491.3 912.5) rotate(90)" font-size="17.6" stroke="#141414" stroke-width="0.6"><tspan x="0.15" y="0" font-size="17.6" textLength="20.26" lengthAdjust="spacingAndGlyphs">VAF</tspan> <tspan x="25.8" y="0" font-size="17.6" textLength="19.99" lengthAdjust="spacingAndGlyphs">(%)</tspan></text>
</g>
</svg>
</body></html>
